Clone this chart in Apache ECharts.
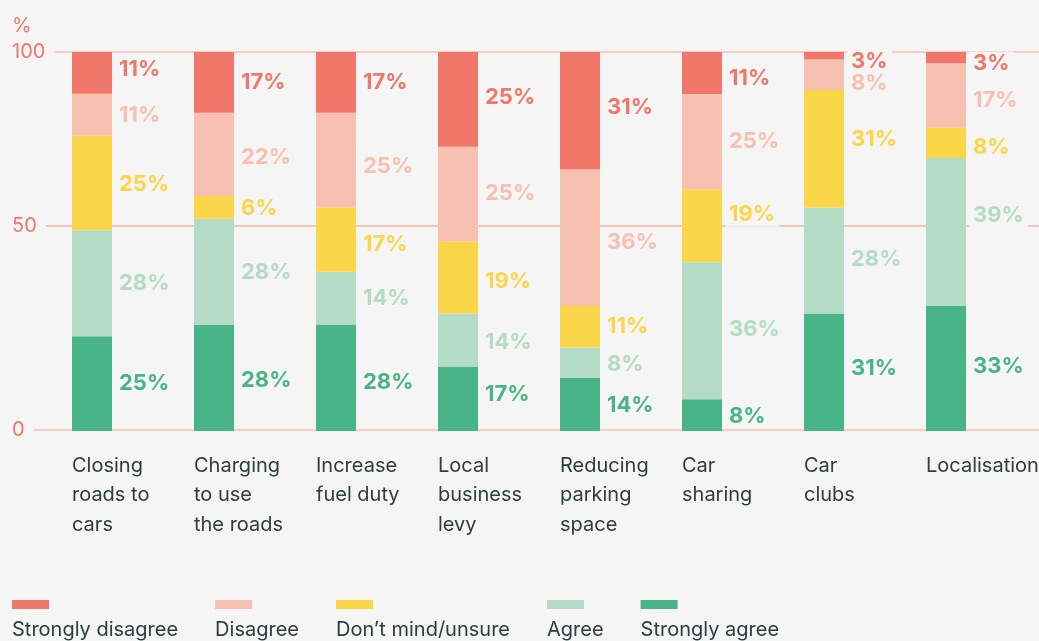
<!DOCTYPE html>
<html><head><meta charset="utf-8">
<script src="https://cdn.jsdelivr.net/npm/echarts@6/dist/echarts.min.js"></script>
<style>html,body{margin:0;padding:0;background:#f4f5f4}#c{width:1039px;height:641px}</style>
</head><body><div id="c"></div>
<script>
const categories = ['Closing\nroads to\ncars', 'Charging\nto use\nthe roads', 'Increase\nfuel duty', 'Local\nbusiness\nlevy', 'Reducing\nparking\nspace', 'Car\nsharing', 'Car\nclubs', 'Localisation'];
const seriesNames = ['Strongly disagree', 'Disagree', 'Don\u2019t mind/unsure', 'Agree', 'Strongly agree'];
const stronglyAgree = [25, 28, 28, 17, 14, 8.4, 31, 33];
const agree = [28, 28, 14, 14, 8, 36.1, 28, 39];
const dontMind = [25, 6, 17, 19, 11, 19.3, 31, 8];
const disagree = [11, 22, 25, 25, 36, 25.1, 8, 17];
const stronglyDisagree = [11, 17, 17, 25, 31, 11.1, 3, 3];
const yTicksUpper = [50, 100];
const yTicksLower = [0, 50];

// label nudges (px) to mimic the reference's label placement
const nudgeSD = [-3, 0, 0, -2, -3, 5, 6, 6];
const nudgeD = [1, 3, 6, -1, 5, 0, 9, 5];
const nudgeDM = [2, 1, 5, 4, 0, -11, -9, 4];
const nudgeA = [0, 1, 0, 2, 2, -1, -1, -17];
const nudgeSA = [0, 2, 4, -4, 1, 1, -4, -2];

const BG = '#f4f5f4';
const TEXT = '#2e3d3d';
const SALMON = '#f07769';
const colors = {
  'Strongly disagree': '#f07769',
  'Disagree': '#f8c0b1',
  'Don\u2019t mind/unsure': '#fbd648',
  'Agree': '#b3dbc5',
  'Strongly agree': '#4ab489'
};
const FONT = 'Inter';

function mk(name, vals, nudge) {
  return {
    name: name,
    type: 'bar',
    stack: 'all',
    xAxisIndex: 1,
    yAxisIndex: 1,
    barWidth: 40,
    itemStyle: { color: colors[name] },
    label: {
      show: true,
      position: 'right',
      distance: 3,
      formatter: p => Math.round(p.value) + '%',
      color: colors[name],
      fontFamily: FONT,
      fontWeight: 'bold',
      fontSize: 22,
      backgroundColor: BG,
      padding: [1, 4, 1, 4]
    },
    data: vals.map((v, i) => ({ value: v, label: { offset: [0, nudge[i]] } }))
  };
}

function gridAxis(gridIndex, ticks, showLabels, extra) {
  return Object.assign({
    gridIndex: gridIndex, type: 'value', min: ticks[0], max: ticks[ticks.length - 1], interval: ticks[1] - ticks[0],
    axisLine: { show: false }, axisTick: { show: false },
    axisLabel: {
      inside: true, margin: 0, align: 'left', color: SALMON, fontSize: 20, fontFamily: FONT,
      backgroundColor: BG, padding: [0, 9, 0, 0],
      formatter: v => showLabels.indexOf(v) >= 0 ? String(v) : ''
    },
    splitLine: { show: true, lineStyle: { color: '#f8c0b1', width: 1.5 } }
  }, extra || {});
}

const chart = echarts.init(document.getElementById('c'), null, { renderer: 'canvas' });
chart.setOption({
  animation: false,
  backgroundColor: BG,
  textStyle: { fontFamily: FONT },
  grid: [
    { left: 12, right: 0, top: 52, bottom: 415, outerBoundsMode: 'none', containLabel: false },
    { left: 31, right: 32, top: 52, bottom: 210, outerBoundsMode: 'none', containLabel: false },
    { left: 12, right: 0, top: 226, bottom: 211, outerBoundsMode: 'none', containLabel: false }
  ],
  legend: {
    data: seriesNames,
    left: 12,
    top: 600,
    padding: 0,
    icon: 'path://M0,0L37,0L37,9L0,9Z M0,60L0.01,60',
    itemWidth: 37,
    itemHeight: 60,
    itemGap: 37,
    selectedMode: false,
    textStyle: { fontFamily: FONT, fontSize: 20, color: TEXT, padding: [0, 0, 0, -42] }
  },
  xAxis: [
    { gridIndex: 0, type: 'category', data: categories, show: false },
    {
      gridIndex: 1, type: 'category', data: categories,
      axisLine: { show: false }, axisTick: { show: false },
      axisLabel: {
        interval: 0, margin: 20, align: 'center', verticalAlign: 'top',
        color: TEXT, fontSize: 20, lineHeight: 29.5, fontFamily: FONT,
        formatter: v => v.split('\n').map(l => '{a|' + l + '}').join('\n'),
        rich: { a: { width: 40, align: 'left', fontSize: 20, lineHeight: 29.5, color: TEXT, fontFamily: FONT } }
      }
    },
    { gridIndex: 2, type: 'category', data: categories, show: false }
  ],
  yAxis: [
    gridAxis(0, yTicksUpper, [100], {
      name: '%', nameLocation: 'end', nameGap: 26,
      nameTextStyle: { align: 'left', verticalAlign: 'middle', color: SALMON, fontSize: 20, fontFamily: FONT }
    }),
    { gridIndex: 1, type: 'value', min: 0, max: 100, show: false },
    gridAxis(2, yTicksLower, [0, 50])
  ],
  series: [
    mk('Strongly agree', stronglyAgree, nudgeSA),
    mk('Agree', agree, nudgeA),
    mk('Don\u2019t mind/unsure', dontMind, nudgeDM),
    mk('Disagree', disagree, nudgeD),
    mk('Strongly disagree', stronglyDisagree, nudgeSD)
  ]
});
</script></body></html>
